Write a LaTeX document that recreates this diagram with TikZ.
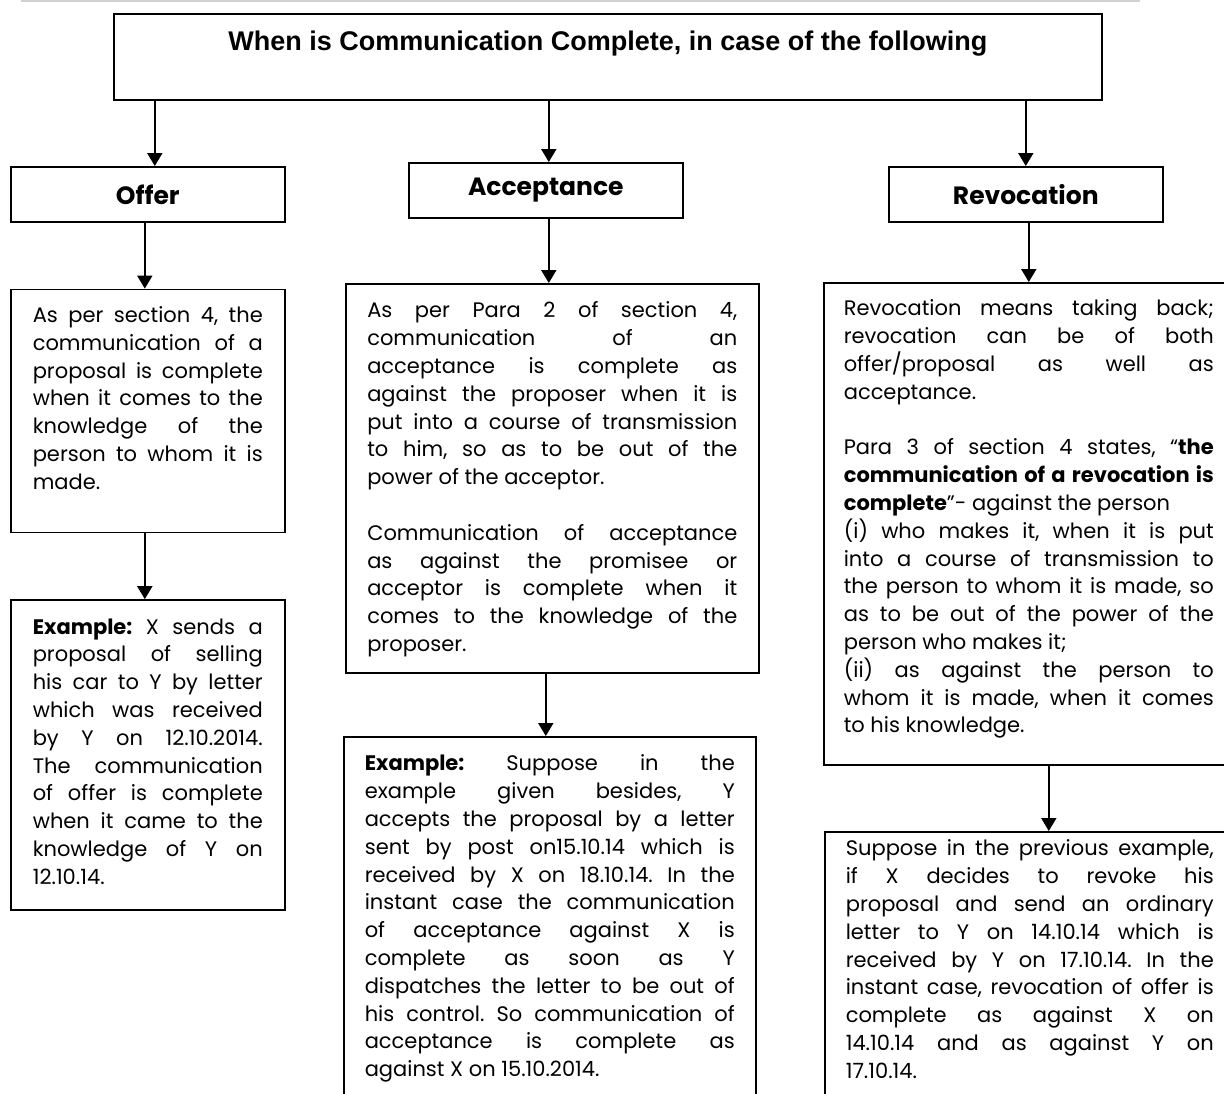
\documentclass[tikz,border=0pt]{standalone}
\usepackage{fontspec}
\setmainfont{Poppins}
\newfontfamily\arialfont{Liberation Sans}
\usetikzlibrary{arrows.meta, positioning}

\newcommand{\bodyfont}{\fontsize{21}{27.8}\selectfont\frenchspacing\tolerance=9999\hbadness=10000\hyphenpenalty=10000}

\begin{document}
\begin{tikzpicture}[
    x = 1pt, y = -1pt,
    > = {Triangle[width=15pt, length=13pt]},
    frame/.style = {draw, line width=1.6pt, inner sep=0pt, anchor=north west},
    head/.style  = {frame, minimum width=274pt, minimum height=55pt, font=\bfseries\fontsize{25}{28}\selectfont},
    card/.style  = {frame, align=justify, font=\bodyfont},
    link/.style  = {->, line width=2pt}
]
\useasboundingbox (0,0) rectangle (1224,1093);
\clip (0,0) rectangle (1224,1093);

% scan edge
\draw[black!18, line width=2pt] (21,1) -- (1140,1);

% Title
\node[frame, minimum width=988pt, text height=37pt, text depth=49pt,
      font=\arialfont\bfseries\fontsize{27}{30}\selectfont] (top) at (113,13)
    {When is Communication Complete, in case of the following};

% Headings
\node[head] (offer)  at (10,166)  {Offer};
\node[head] (accept) at (408,162) {Acceptance};
\node[head] (revoke) at (888,166) {Revocation};

% Offer column
\node[card, below = 66pt of offer, text width=230pt, inner xsep=22pt,
      text height=33pt, text depth=210pt] (offerTxt)
    {As per section 4, the\linebreak communication of a\linebreak proposal is complete\linebreak
     when it comes to the\linebreak knowledge of the\linebreak person to whom it is\linebreak made.};
\node[card, below = 66pt of offerTxt, text width=230pt, inner xsep=22pt,
      text height=34pt, text depth=276pt] (offerEx)
    {\textbf{Example:} X sends a\linebreak proposal of selling\linebreak his car to Y by letter\linebreak
     which was received\linebreak by Y on 12.10.2014.\linebreak The communication\linebreak
     of offer is complete\linebreak when it came to the\linebreak knowledge of Y on\linebreak 12.10.14.};

% Acceptance column
\node[card, text width=370pt, inner xsep=21.5pt, text height=34pt, text depth=355pt]
    (acceptTxt) at (345,283)
    {As per Para 2 of section 4,\linebreak communication of an\linebreak acceptance is complete as\linebreak
     against the proposer when it is\linebreak put into a course of transmission\linebreak
     to him, so as to be out of the\linebreak power of the acceptor.\par\vspace{27.8pt}
     Communication of acceptance\linebreak as against the promisee or\linebreak
     acceptor is complete when it\linebreak comes to the knowledge of the\linebreak proposer.};
\node[card, text width=370pt, inner xsep=21pt, text height=34pt, text depth=340pt]
    (acceptEx) at (343,736)
    {\textbf{Example:} Suppose in the\linebreak example given besides, Y\linebreak
     accepts the proposal by a letter\linebreak sent by post on15.10.14 which is\linebreak
     received by X on 18.10.14. In the\linebreak instant case the communication\linebreak
     of acceptance against X is\linebreak complete as soon as Y\linebreak
     dispatches the letter  to be out of\linebreak his control. So communication of\linebreak
     acceptance is complete as\linebreak against X on 15.10.2014.};

% Revocation column
\node[card, text width=370pt, inner xsep=20pt, text height=33pt, text depth=449pt]
    (revokeTxt) at (823,282)
    {Revocation means taking back;\linebreak revocation can be of both\linebreak
     offer/proposal as well as\linebreak acceptance.\par\vspace{27.8pt}
     Para 3 of section 4 states, “\textbf{the}\linebreak \textbf{communication of a revocation is}\linebreak
     \textbf{complete}”- against the person\\
     (i) who makes it, when it is put\linebreak into a course of transmission to\linebreak
     the person to whom it is made, so\linebreak as to be out of the power of the\linebreak
     person who makes it;\\
     (ii) as against the person to\linebreak whom it is made, when it comes\linebreak to his knowledge.};
\node[card, text width=368pt, inner xsep=21pt, text height=24pt, text depth=255pt]
    (revokeEx) at (824,831)
    {Suppose in the previous example,\linebreak if X decides to revoke his\linebreak
     proposal and send an ordinary\linebreak letter to Y on 14.10.14 which is\linebreak
     received by Y on 17.10.14. In the\linebreak instant case, revocation of offer is\linebreak
     complete as against X on\linebreak 14.10.14 and as against Y on\linebreak 17.10.14.};

% Arrows
\draw[link] ([xshift=7pt]offer.north |- top.south) -- ([xshift=7pt]offer.north);
\draw[link] ([xshift=3pt]accept.north |- top.south) -- ([xshift=3pt]accept.north);
\draw[link] (revoke.north |- top.south) -- (revoke.north);

\draw[link] ([xshift=-3pt]offer.south) -- ([xshift=-3pt]offer.south |- offerTxt.north);
\draw[link] ([xshift=-3pt]offerTxt.south) -- ([xshift=-3pt]offerTxt.south |- offerEx.north);

\draw[link] ([xshift=3pt]accept.south) -- ([xshift=3pt]accept.south |- acceptTxt.north);
\draw[link] ([xshift=-6.5pt]acceptTxt.south) -- ([xshift=-6.5pt]acceptTxt.south |- acceptEx.north);

\draw[link] ([xshift=3pt]revoke.south) -- ([xshift=3pt]revoke.south |- revokeTxt.north);
\draw[link] ([xshift=20pt]revokeTxt.south) -- ([xshift=20pt]revokeTxt.south |- revokeEx.north);

\end{tikzpicture}
\end{document}
